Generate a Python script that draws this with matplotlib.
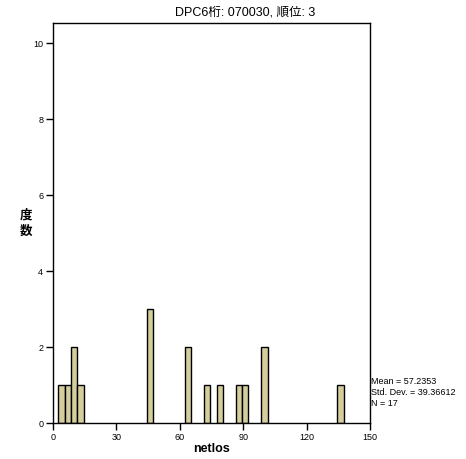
import matplotlib
matplotlib.use("Agg")
from matplotlib import pyplot as plt

plt.rcParams['font.family'] = ['Liberation Sans', 'Noto Sans CJK JP', 'DejaVu Sans']

# histogram bins (centre of each 3-wide bin) and counts
bin_centers = [4, 7, 10, 13, 46, 64, 73, 79, 88, 91, 100, 136]
counts = [1, 1, 2, 1, 3, 2, 1, 1, 1, 1, 2, 1]
bin_width = 3

title = "DPC6桁: 070030, 順位: 3"
stats = "Mean = 57.2353\nStd. Dev. = 39.36612\nN = 17"

fig = plt.figure(figsize=(4.66, 4.59), dpi=100)
ax = fig.add_axes([0.1137, 0.0784, 0.6803, 0.8715])

ax.bar(bin_centers, counts, width=bin_width, color='#d4cd9c',
       edgecolor='black', linewidth=1.0)

ax.set_xlim(0, 150)
ax.set_ylim(0, 10.53)
ax.set_xticks([0, 30, 60, 90, 120, 150])
ax.set_yticks([0, 2, 4, 6, 8, 10])
ax.tick_params(labelsize=6.5, length=5, width=1, direction='out', pad=2)
for s in ax.spines.values():
    s.set_linewidth(1)

ax.set_xlabel("netlos", fontsize=9, fontweight='bold', labelpad=1)
fig.text(0.055, 0.514, "度\n数", fontsize=9, fontweight='bold',
         family=['Noto Sans CJK JP', 'DejaVu Sans'],
         ha='center', va='center', linespacing=1.3)
fig.text(0.526, 0.972, title, fontsize=9, ha='center', va='center')
fig.text(0.797, 0.112, stats, fontsize=6.5, ha='left', va='bottom', linespacing=1.25)

fig.savefig("out.png", dpi=100)
